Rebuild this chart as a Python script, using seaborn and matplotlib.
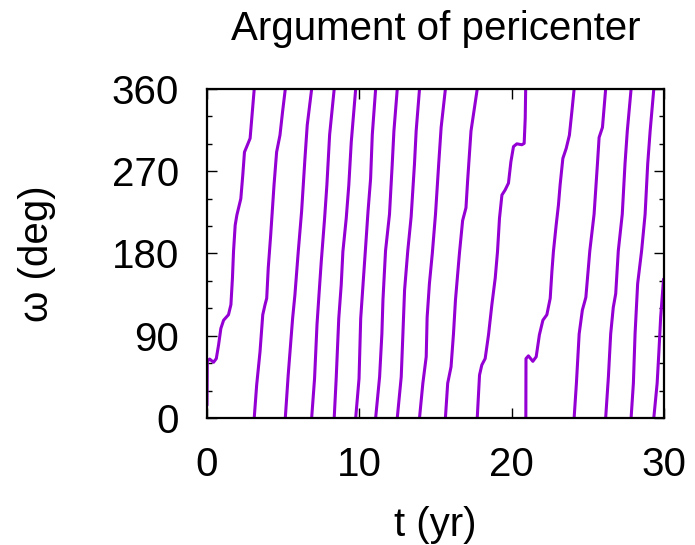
import matplotlib
matplotlib.use("Agg")
import matplotlib.pyplot as plt
from matplotlib.ticker import MultipleLocator
import seaborn as sns
import pandas as pd

# ---- data (t in yr, omega in deg), one list per wrap branch ----
b01_t = [0.00, 0.02, 0.17, 0.43, 0.61, 0.76, 0.91, 1.09, 1.41, 1.57, 1.67, 1.74, 1.85, 1.96, 2.22, 2.35, 2.46, 2.61, 2.83, 2.94, 3.10]
b01_w = [14, 62, 64.5, 61, 65, 80, 98, 107, 113, 124, 153, 182, 211, 222, 240, 266, 291, 297, 306, 328, 360]
b02_t = [3.10, 3.26, 3.48, 3.66, 3.81, 3.92, 4.02, 4.18, 4.40, 4.57, 4.79, 4.96, 5.14]
b02_w = [0, 36, 72.5, 113, 124, 131, 164, 200, 255, 291, 309.5, 335, 360]
b03_t = [5.14, 5.33, 5.62, 5.77, 5.99, 6.21, 6.43, 6.58, 6.87]
b03_w = [0, 47, 109, 134.5, 182, 226, 284, 320.5, 360]
b04_t = [6.87, 7.06, 7.22, 7.35, 7.50, 7.72, 7.87, 8.05, 8.35]
b04_w = [0, 43, 102, 134.5, 171, 218.5, 255, 310, 360]
b05_t = [8.35, 8.48, 8.65, 8.81, 8.92, 9.14, 9.31, 9.47, 9.76]
b05_w = [0, 43, 109, 145.5, 182, 218.5, 255, 302, 360]
b06_t = [9.76, 9.98, 10.09, 10.24, 10.42, 10.57, 10.74, 10.85, 11.07]
b06_w = [0, 43, 109, 145.5, 189, 226, 262, 310, 360]
b07_t = [11.07, 11.33, 11.48, 11.55, 11.72, 11.98, 12.16, 12.27, 12.49]
b07_w = [0, 45, 92, 129, 183, 223, 278, 314, 360]
b08_t = [12.49, 12.75, 12.86, 12.97, 13.18, 13.40, 13.62, 13.73, 13.95]
b08_w = [0, 45, 92, 140, 183, 220, 278, 314, 360]
b09_t = [13.95, 14.17, 14.39, 14.45, 14.60, 14.79, 15.00, 15.21, 15.37, 15.65]
b09_w = [0, 38, 67, 110, 147, 180, 223, 278, 318, 360]
b10_t = [15.65, 15.80, 16.02, 16.18, 16.31, 16.57, 16.78, 17.00, 17.11, 17.33, 17.74]
b10_w = [0, 38, 56, 92, 129, 180, 216, 230, 260, 314, 360]
b11_t = [17.74, 17.89, 18.04, 18.26, 18.48, 18.70, 18.92, 19.07, 19.20, 19.36, 19.57, 19.79, 19.95, 20.12, 20.34, 20.67, 20.82, 20.89, 20.91, 20.92]
b11_w = [0, 47, 58, 65, 91, 124, 153, 182, 218.5, 244, 249.5, 257, 280.5, 297, 300, 299, 300.5, 328, 350, 360]
b12_t = [20.93, 20.94, 21.10, 21.39, 21.61, 21.82, 22.05, 22.31, 22.53, 22.64, 22.74, 22.92, 23.07, 23.18, 23.36, 23.58, 23.79, 23.95, 24.10]
b12_w = [0, 65, 68, 62, 67, 91, 107, 113, 131, 160, 182, 211, 233, 255, 284, 295, 309.5, 335, 360]
b13_t = [24.10, 24.25, 24.43, 24.64, 24.87, 25.13, 25.41, 25.63, 25.74, 25.96, 26.17]
b13_w = [0, 38, 92, 118, 132, 183, 223, 278, 307, 318, 360]
b14_t = [26.17, 26.35, 26.50, 26.67, 26.83, 27.00, 27.26, 27.44, 27.59, 27.84]
b14_w = [0, 45, 92, 121, 136, 183, 223, 278, 314, 360]
b15_t = [27.84, 27.99, 28.10, 28.27, 28.53, 28.76, 28.93, 29.09, 29.33]
b15_w = [0, 38, 92, 147, 183, 223, 278, 314, 360]
b16_t = [29.33, 29.55, 29.67, 29.78, 29.97]
b16_w = [0, 38, 74, 110, 152]

branches_t = [b01_t, b02_t, b03_t, b04_t, b05_t, b06_t, b07_t, b08_t,
              b09_t, b10_t, b11_t, b12_t, b13_t, b14_t, b15_t, b16_t]
branches_w = [b01_w, b02_w, b03_w, b04_w, b05_w, b06_w, b07_w, b08_w,
              b09_w, b10_w, b11_w, b12_w, b13_w, b14_w, b15_w, b16_w]

x_ticks = [0, 10, 20, 30]
y_ticks = [0, 90, 180, 270, 360]

rows = []
for i, (ts, ws) in enumerate(zip(branches_t, branches_w)):
    for t, w in zip(ts, ws):
        rows.append({"t": t, "omega": w, "branch": i})
df = pd.DataFrame(rows)

sns.set_style("ticks")
plt.rcParams["font.family"] = ["Liberation Sans", "DejaVu Sans"]
plt.rcParams["text.color"] = "black"
plt.rcParams["axes.labelcolor"] = "black"

fig = plt.figure(figsize=(6.95, 5.45), dpi=100)
ax = fig.add_axes([207 / 695, 1 - 418 / 545, (664 - 207) / 695, (418 - 89) / 545])

sns.lineplot(data=df, x="t", y="omega", units="branch", estimator=None, sort=False,
             color="#9400D3", lw=2.2, ax=ax, legend=False)

ax.set_xlim(0, 30)
ax.set_ylim(0, 360)
ax.set_xticks(x_ticks)
ax.set_yticks(y_ticks)
ax.yaxis.set_minor_locator(MultipleLocator(30))
ax.tick_params(which="both", direction="in", top=True, right=True, width=1.0,
               labelsize=29, pad=20, colors="black")
ax.tick_params(which="major", length=7)
ax.tick_params(which="minor", length=3.5)
for s in ax.spines.values():
    s.set_linewidth(1.6)
    s.set_color("black")

ax.set_title("Argument of pericenter", fontsize=29, pad=35, color="black")
ax.set_xlabel("t (yr)", fontsize=29, labelpad=16, color="black")
ax.set_ylabel("ω (deg)", fontsize=29, labelpad=40, color="black")

fig.savefig("out.png", dpi=100)
